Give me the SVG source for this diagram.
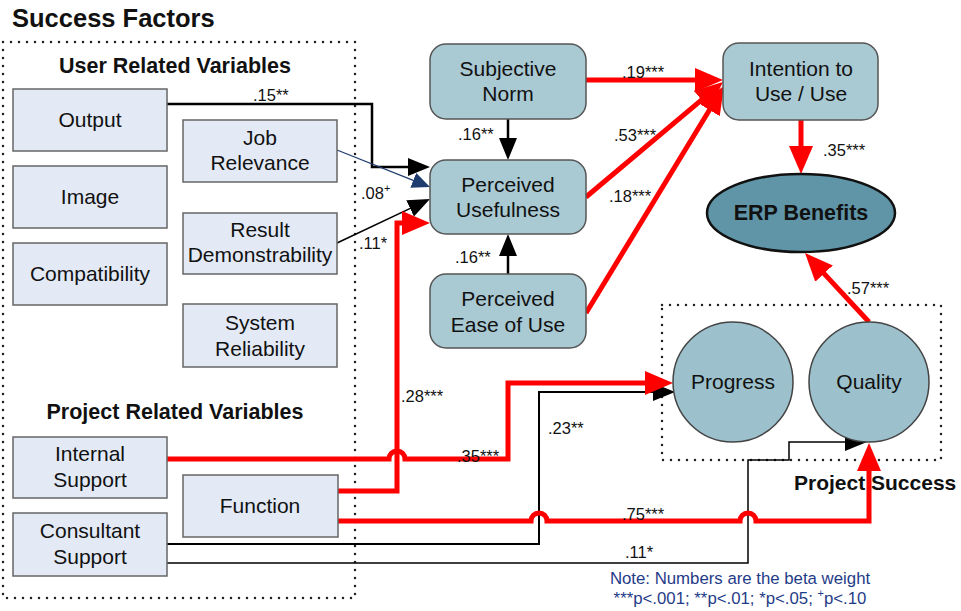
<svg xmlns="http://www.w3.org/2000/svg" width="961" height="611" viewBox="0 0 961 611">
<defs>
<style>
text{font-family:"Liberation Sans",Arial,sans-serif;fill:#111}
.box{fill:#e3eaf6;stroke:#666;stroke-width:1.5}
.rbox{fill:#a9c9d3;stroke:#555;stroke-width:1.5}
.circ{fill:#9cc1cc;stroke:#444;stroke-width:1.5}
.t{font-size:21px;text-anchor:middle}
.h{font-size:21.5px;font-weight:bold;text-anchor:middle}
.lbl{font-size:16.5px}
.dot{fill:none;stroke:#222;stroke-width:2.5;stroke-dasharray:0 8;stroke-linecap:round}
.red{fill:none;stroke:#ff0000;stroke-width:5;marker-end:url(#ar)}
.blk{fill:none;stroke:#000;marker-end:url(#ab)}
.note{font-size:16.8px;fill:#1f3c88;text-anchor:middle}
</style>
<marker id="ar" markerUnits="userSpaceOnUse" markerWidth="30" markerHeight="26" refX="2" refY="12" orient="auto"><path d="M0,0 L28,12 L0,24 z" fill="#ff0000"/></marker>
<marker id="ab" markerUnits="userSpaceOnUse" markerWidth="24" markerHeight="20" refX="2" refY="9" orient="auto"><path d="M0,0 L22,9 L0,18 z" fill="#000"/></marker>
<marker id="an" markerUnits="userSpaceOnUse" markerWidth="20" markerHeight="18" refX="2" refY="8" orient="auto"><path d="M0,0 L18,8 L0,16 z" fill="#1f3c6e"/></marker>
</defs>
<rect width="961" height="611" fill="#fff"/>
<text x="12" y="27" style="font-size:25.5px;font-weight:bold">Success Factors</text>
<rect class="dot" x="3" y="42" width="352" height="556"/>
<rect class="dot" x="662" y="305" width="279" height="155"/>
<text class="h" x="175" y="73">User Related Variables</text>
<text class="h" x="175" y="419">Project Related Variables</text>
<text x="794" y="490" style="font-size:21px;font-weight:bold">Project Success</text>

<g id="connectors">
<path class="blk" stroke-width="2.5" d="M167,104 H372 V167 H410"/>
<path fill="none" stroke="#1f3c6e" stroke-width="1.2" marker-end="url(#an)" d="M337,150 L415.1,181.1"/>
<path class="blk" stroke-width="1.6" d="M337,243 L411.9,207.6"/>
<path class="blk" stroke-width="2.5" d="M508,119 V140"/>
<path class="blk" stroke-width="2.5" d="M508,274 V254"/>
<path class="blk" stroke-width="2" d="M167,544 H539 V392 H655"/>
<path class="blk" stroke-width="1.5" d="M167,563 H748 V460 H789 V442 H847"/>
<path class="red" d="M338,491 H397 V223 H404"/>
<path class="red" d="M167,459 H389 A8,8 0 0 1 405,459 H508 V383 H647"/>
<path class="red" d="M338,521 H531 A8,8 0 0 1 547,521 H740 A8,8 0 0 1 756,521 H869 V469"/>
<path class="red" d="M586,80 H697"/>
<path class="red" d="M586,197 L703.1,98.7"/>
<path class="red" d="M586,313 L710.5,108.2"/>
<path class="red" d="M801,120 V148"/>
<path class="red" d="M869,322 L822.7,272.1"/>
<g class="lbl">
<text x="253" y="101">.15**</text>
<text x="361" y="199">.08<tspan dy="-7" font-size="11">+</tspan></text>
<text x="359" y="249">.11*</text>
<text x="401" y="402">.28***</text>
<text x="457" y="462">.35***</text>
<text x="548" y="434">.23**</text>
<text x="622" y="520">.75***</text>
<text x="625" y="558">.11*</text>
<text x="458" y="140">.16**</text>
<text x="455" y="263">.16**</text>
<text x="622" y="78">.19***</text>
<text x="614" y="141">.53***</text>
<text x="609" y="202">.18***</text>
<text x="823" y="156">.35***</text>
<text x="847" y="294">.57***</text>
</g>
</g>

<g id="output"><rect class="box" x="13" y="89" width="154" height="62"/><text class="t" x="90" y="127">Output</text></g>
<g id="image"><rect class="box" x="13" y="166" width="154" height="62"/><text class="t" x="90" y="204">Image</text></g>
<g id="compatibility"><rect class="box" x="13" y="243" width="154" height="62"/><text class="t" x="90" y="281">Compatibility</text></g>
<g id="job"><rect class="box" x="183" y="120" width="154" height="62"/><text class="t" x="260" y="145">Job</text><text class="t" x="260" y="170">Relevance</text></g>
<g id="result"><rect class="box" x="183" y="213" width="154" height="61"/><text class="t" x="260" y="237">Result</text><text class="t" x="260" y="262">Demonstrability</text></g>
<g id="system"><rect class="box" x="183" y="304" width="154" height="63"/><text class="t" x="260" y="330">System</text><text class="t" x="260" y="356">Reliability</text></g>
<g id="internal"><rect class="box" x="13" y="437" width="154" height="61"/><text class="t" x="90" y="461">Internal</text><text class="t" x="90" y="487">Support</text></g>
<g id="function"><rect class="box" x="183" y="475" width="155" height="62"/><text class="t" x="260" y="513">Function</text></g>
<g id="consultant"><rect class="box" x="13" y="513" width="154" height="63"/><text class="t" x="90" y="538">Consultant</text><text class="t" x="90" y="564">Support</text></g>
<g id="sn"><rect class="rbox" x="430" y="44" width="156" height="75" rx="16"/><text class="t" x="508" y="76">Subjective</text><text class="t" x="508" y="101">Norm</text></g>
<g id="pu"><rect class="rbox" x="430" y="160" width="156" height="74" rx="16"/><text class="t" x="508" y="192">Perceived</text><text class="t" x="508" y="217">Usefulness</text></g>
<g id="peou"><rect class="rbox" x="430" y="274" width="156" height="74" rx="16"/><text class="t" x="508" y="306">Perceived</text><text class="t" x="508" y="332">Ease of Use</text></g>
<g id="intention"><rect class="rbox" x="723" y="43" width="155" height="77" rx="16"/><text class="t" x="801" y="76">Intention to</text><text class="t" x="801" y="101">Use / Use</text></g>
<g id="erp"><ellipse cx="801" cy="213" rx="94" ry="39" fill="#5f95a7" stroke="#111" stroke-width="2.5"/><text class="h" x="801" y="220">ERP Benefits</text></g>
<g id="progress"><circle class="circ" cx="733" cy="382" r="60"/><text class="t" x="733" y="389">Progress</text></g>
<g id="quality"><circle class="circ" cx="869" cy="382" r="60"/><text class="t" x="869" y="389">Quality</text></g>

<text class="note" x="740" y="584">Note: Numbers are the beta weight</text>
<text class="note" x="740" y="604">***p&lt;.001; **p&lt;.01; *p&lt;.05; <tspan dy="-7" font-size="11">+</tspan><tspan dy="7">p&lt;.10</tspan></text>
</svg>
